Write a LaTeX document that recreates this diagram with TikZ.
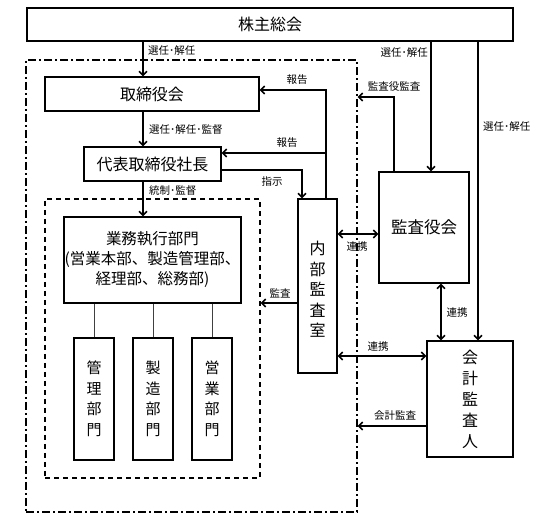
\documentclass[tikz,border=0pt]{standalone}
\usepackage{fontspec}
\setmainfont{Noto Sans CJK JP}
\usetikzlibrary{arrows.meta,calc}
\begin{document}
\begin{tikzpicture}[x=1pt,y=-1pt,
  box/.style={draw,line width=1.1pt,inner sep=0pt,font=\fontsize{16}{20}\selectfont,align=center},
  vbox/.style={box,font=\fontsize{15}{20.5}\selectfont},
  arr/.style={line width=1.6pt,-{Straight Barb[length=4pt,width=8pt]}},
  darr/.style={line width=1.6pt,{Straight Barb[length=4pt,width=8pt]}-{Straight Barb[length=4pt,width=8pt]}},
  thinline/.style={line width=1pt,draw=black!75},
  lbl/.style={font=\fontsize{10.5}{12}\selectfont,inner sep=0pt},
  ]
\useasboundingbox (0,0) rectangle (550,526);
% frames
\node[draw,line width=1.1pt,dash pattern=on 8pt off 3pt on 2pt off 3pt,minimum width=331pt,minimum height=452pt,inner sep=0pt] (outer) at (191.5,286) {};
\node[draw,line width=1.1pt,dash pattern=on 5pt off 4pt,minimum width=215pt,minimum height=279pt,inner sep=0pt] (inner) at (152.5,338.5) {};
% boxes
\node[box,minimum width=486pt,minimum height=33pt] (sh) at (270,24.5) {株主総会};
\node[box,minimum width=214pt,minimum height=34pt] (tb) at (152,94) {取締役会};
\node[box,minimum width=137pt,minimum height=34pt] (ceo) at (152.5,164) {代表取締役社長};
\node[box,font=\fontsize{15.5}{20}\selectfont,minimum width=177pt,minimum height=86pt] (gyo) at (152.5,260) {業務執行部門\\(営業本部、製造管理部、\\経理部、総務部)};
\node[vbox,minimum width=40pt,minimum height=122pt] (sub1) at (94,399) {管\\理\\部\\門};
\node[vbox,minimum width=40pt,minimum height=122pt] (sub2) at (153,399) {製\\造\\部\\門};
\node[vbox,minimum width=40pt,minimum height=122pt] (sub3) at (212,399) {営\\業\\部\\門};
\node[vbox,font=\fontsize{16}{20.5}\selectfont,minimum width=39pt,minimum height=174pt] (nai) at (317.5,286) {\\内\\部\\監\\査\\室};
\node[box,font=\fontsize{16.5}{20}\selectfont,minimum width=90pt,minimum height=111pt] (kan) at (424,227.5) {監査役会};
\node[vbox,font=\fontsize{16}{21}\selectfont,minimum width=86pt,minimum height=116pt] (kai) at (470,399) {会\\計\\監\\査\\人};
% helper coordinates
\coordinate (xA) at (143,0);
\coordinate (xB) at (326,0);
\coordinate (xC) at (302,0);
\coordinate (xD) at (394,0);
\coordinate (xE) at (431,0);
\coordinate (xF) at (478,0);
\coordinate (xG) at (441,0);
\coordinate (y90) at (0,90);
\coordinate (y153) at (0,153);
\coordinate (y170) at (0,170);
\coordinate (y97) at (0,97);
\coordinate (y303) at (0,303);
\coordinate (y234) at (0,234);
\coordinate (y356) at (0,356);
\coordinate (y426) at (0,426);
% connectors
\draw[arr] (sh.south -| xA) -- (tb.north -| xA);
\draw[arr] (tb.south -| xA) -- (ceo.north -| xA);
\draw[arr] (ceo.south -| xA) -- (gyo.north -| xA);
\draw[arr] (nai.north -| xB) -- (xB |- y90) -- (tb.east |- y90);
\draw[arr] (xB |- y153) -- (ceo.east |- y153);
\draw[arr] (ceo.east |- y170) -- (xC |- y170) -- (nai.north -| xC);
\draw[arr] (nai.west |- y303) -- (inner.east |- y303);
\draw[darr] (nai.east |- y234) -- (kan.west |- y234);
\draw[darr] (kan.south -| xG) -- (kai.north -| xG);
\draw[darr] (nai.east |- y356) -- (kai.west |- y356);
\draw[arr] (kai.west |- y426) -- (outer.east |- y426);
\draw[arr] (kan.north -| xD) -- (xD |- y97) -- (outer.east |- y97);
\draw[arr] (sh.south -| xE) -- (kan.north -| xE);
\draw[arr] (sh.south -| xF) -- (kai.north -| xF);
\draw[thinline] (gyo.south -| sub1.north) -- (sub1.north);
\draw[thinline] (gyo.south -| sub2.north) -- (sub2.north);
\draw[thinline] (gyo.south -| sub3.north) -- (sub3.north);
% labels
\node[lbl,anchor=west] (l1) at (148,51) {選任･解任};
\node[lbl,anchor=west] (l2) at (149,130) {選任･解任･監督};
\node[lbl,anchor=west] (l3) at (149,191) {統制･監督};
\node[lbl] (l4) at (297,80) {報告};
\node[lbl] (l5) at (287,143) {報告};
\node[lbl] (l6) at (272,182) {指示};
\node[lbl] (l7) at (280,293) {監査};
\node[lbl] (l8) at (357,247) {連携};
\node[lbl] (l9) at (457,313) {連携};
\node[lbl] (l10) at (378,347) {連携};
\node[lbl] (l11) at (395,416) {会計監査};
\node[lbl] (l12) at (394,87) {監査役監査};
\node[lbl,anchor=east] (l13) at (428,53) {選任･解任};
\node[lbl,anchor=west] (l14) at (483,127) {選任･解任};
\end{tikzpicture}
\end{document}
